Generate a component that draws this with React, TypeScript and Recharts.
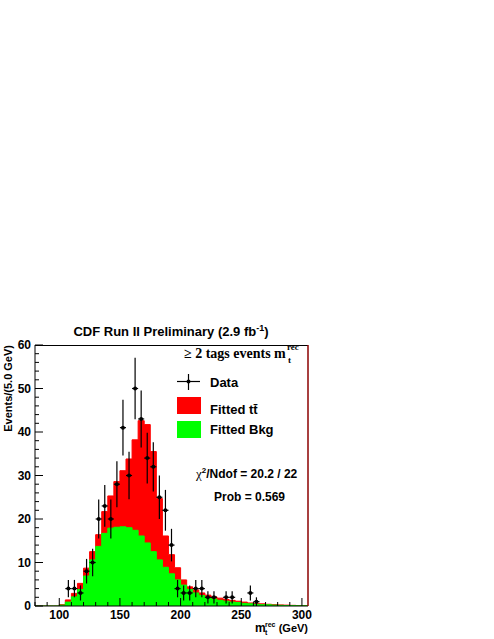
import { Area, ComposedChart, ErrorBar, Scatter, XAxis, YAxis } from "recharts";

// lower edges of the 5 GeV bins
const binLo = [
  80, 85, 90, 95, 100, 105, 110, 115, 120, 125, 130, 135, 140, 145, 150, 155, 160, 165, 170, 175,
  180, 185, 190, 195, 200, 205, 210, 215, 220, 225, 230, 235, 240, 245, 250, 255, 260, 265, 270, 275,
  280, 285, 290, 295, 300,
];
// fitted ttbar + bkg (stack top)
const fitTotal = [
  0, 0, 0, 0, 0.3, 1.4, 2.9, 5.2, 8.7, 12.5, 16.4, 21.7, 25.3, 28.6, 31.1, 33.8, 38.2, 42.6, 41.7, 35.5,
  24.7, 16.1, 11.8, 8.8, 6.0, 4.4, 3.7, 3.0, 2.5, 2.1, 1.8, 1.5, 1.3, 1.1, 0.9, 0.7, 0.6, 0.5, 0.4, 0.3,
  0.25, 0.2, 0.15, 0.1, 0.1,
];
// fitted background
const fitBkg = [
  0, 0, 0, 0, 0.2, 0.9, 2.1, 3.8, 6.9, 10.6, 13.7, 16.7, 17.9, 18.1, 18.2, 18.0, 17.4, 16.1, 14.5, 12.5,
  10.6, 8.9, 7.4, 6.0, 4.8, 3.8, 3.0, 2.4, 1.9, 1.6, 1.3, 1.1, 0.9, 0.8, 0.6, 0.5, 0.4, 0.3, 0.3, 0.2,
  0.15, 0.1, 0.1, 0.05, 0.05,
];
// data: bin centres and counts
const dataMass = [
  107.5, 112.5, 117.5, 122.5, 127.5, 132.5, 137.5, 142.5, 147.5, 152.5, 157.5, 162.5, 167.5, 172.5,
  177.5, 182.5, 187.5, 192.5, 197.5, 202.5, 207.5, 212.5, 217.5, 222.5, 227.5, 237.5, 242.5, 257.5,
  262.5,
];
const dataCount = [
  4, 4, 3, 8, 10, 20, 23, 20, 28, 41, 30, 50, 43, 34, 32, 25, 22, 14, 4, 3, 3, 4, 4, 2, 2, 2, 2, 3, 1,
];
const xTicks = [80, 90, 100, 110, 120, 130, 140, 150, 160, 170, 180, 190, 200, 210, 220, 230, 240, 250, 260, 270, 280, 290, 300];
const yTicks = [0, 2, 4, 6, 8, 10, 12, 14, 16, 18, 20, 22, 24, 26, 28, 30, 32, 34, 36, 38, 40, 42, 44, 46, 48, 50, 52, 54, 56, 58, 60];

const BIN = 5;
const SANS = "'Liberation Sans', Arial, Helvetica, sans-serif";
const SERIF = "'Liberation Serif', 'Times New Roman', serif";

const hist = binLo.map((m, i) => ({ m, tot: fitTotal[i], bkg: fitBkg[i] }));
hist.push({ m: binLo[binLo.length - 1] + BIN, tot: fitTotal[fitTotal.length - 1], bkg: fitBkg[fitBkg.length - 1] });

const points = dataMass.map((m, i) => ({
  m,
  n: dataCount[i],
  ey: Math.sqrt(dataCount[i]),
  ex: BIN / 2,
}));

const TM = 4;
// plot frame (matches chart margins below)
const PL = 35, PR = 308, PT = 345, PB = 606;

function YTick(props: any) {
  const { x, y, payload } = props;
  const v = payload.value;
  const major = v % 10 === 0;
  const ax = x + TM;
  return (
    <g>
      <line x1={ax} x2={ax + (major ? 8 : 4)} y1={y} y2={y} stroke="#000" />
      {major && (
        <text x={ax - 4} y={y + 4} textAnchor="end" fontFamily={SANS} fontWeight="bold" fontSize={12} fill="#000">
          {v}
        </text>
      )}
    </g>
  );
}

function XTick(props: any) {
  const { x, y, payload } = props;
  const v = payload.value;
  const major = v % 50 === 0;
  const ay = y - TM;
  return (
    <g>
      <line x1={x} x2={x} y1={ay} y2={ay - (major ? 8 : 4)} stroke="#000" />
      {major && (
        <text x={x} y={ay + 13} textAnchor="middle" fontFamily={SANS} fontWeight="bold" fontSize={12} fill="#000">
          {v}
        </text>
      )}
    </g>
  );
}

const Dot = (p: any) => <circle cx={p.cx} cy={p.cy} r={2} fill="#000" />;

export default function App() {
  return (
    <div style={{ position: "absolute", left: 0, top: 0, width: 494, height: 639 }}>
      <ComposedChart
        width={494}
        height={639}
        data={hist}
        margin={{ top: PT, right: 494 - PR, bottom: 8, left: 5 }}
      >
        <XAxis
          dataKey="m"
          type="number"
          domain={[80, 305]}
          allowDataOverflow
          ticks={xTicks}
          interval={0}
          tickSize={0}
          tickMargin={TM}
          tick={<XTick />}
          height={25}
          axisLine={{ stroke: "#000" }}
        />
        <YAxis
          type="number"
          domain={[0, 60]}
          allowDataOverflow
          ticks={yTicks}
          interval={0}
          tickSize={0}
          tickMargin={TM}
          tick={<YTick />}
          width={30}
          axisLine={{ stroke: "#000" }}
        />
        <Area
          type="stepAfter"
          dataKey="tot"
          stroke="#ff0000"
          strokeWidth={1}
          fill="#ff0000"
          fillOpacity={1}
          isAnimationActive={false}
          dot={false}
          activeDot={false}
        />
        <Area
          type="stepAfter"
          dataKey="bkg"
          stroke="#00ff00"
          strokeWidth={1}
          fill="#00ff00"
          fillOpacity={1}
          isAnimationActive={false}
          dot={false}
          activeDot={false}
        />
        <Scatter data={points} dataKey="n" shape={Dot} isAnimationActive={false}>
          <ErrorBar dataKey="ey" direction="y" width={0} stroke="#000" strokeWidth={1.2} />
          <ErrorBar dataKey="ex" direction="x" width={0} stroke="#000" strokeWidth={1.2} />
        </Scatter>
      </ComposedChart>

      <svg
        width={494}
        height={639}
        style={{ position: "absolute", left: 0, top: 0, pointerEvents: "none" }}
      >
        {/* frame: top black, right dark red */}
        <line x1={PL} x2={PR} y1={PT + 0.5} y2={PT + 0.5} stroke="#000" />
        <line x1={PR} x2={PR} y1={PT} y2={PB} stroke="#8b0000" strokeWidth={1.5} />

        <text x={171} y={336} textAnchor="middle" fontFamily={SANS} fontWeight="bold" fontSize={13} fill="#000">
          CDF Run II Preliminary (2.9 fb
          <tspan dy={-5} fontSize={9}>-1</tspan>
          <tspan dy={5}>)</tspan>
        </text>

        <text
          transform="translate(12,345) rotate(-90)"
          textAnchor="end"
          fontFamily={SANS}
          fontWeight="bold"
          fontSize={11}
          fill="#000"
        >
          Events/(5.0 GeV)
        </text>

        <text x={255} y={632} fontFamily={SANS} fontWeight="bold" fontSize={12} fill="#000">
          m
        </text>
        <text x={265} y={627} fontFamily={SANS} fontWeight="bold" fontSize={7} fill="#000">
          rec
        </text>
        <text x={265} y={635} fontFamily={SANS} fontWeight="bold" fontSize={7} fill="#000">
          t
        </text>
        <text x={308} y={632} textAnchor="end" fontFamily={SANS} fontWeight="bold" fontSize={11} fill="#000">
          (GeV)
        </text>

        <text x={184} y={358} fontFamily={SERIF} fontWeight="bold" fontSize={14} fill="#000">
          ≥ 2 tags events m
        </text>
        <text x={287} y={350} fontFamily={SERIF} fontWeight="bold" fontSize={9} fill="#000">
          rec
        </text>
        <text x={288} y={363} fontFamily={SERIF} fontWeight="bold" fontSize={9} fill="#000">
          t
        </text>

        <line x1={177} x2={200} y1={381.5} y2={381.5} stroke="#000" strokeWidth={1.2} />
        <line x1={188.5} x2={188.5} y1={374} y2={390} stroke="#000" strokeWidth={1.2} />
        <circle cx={188.5} cy={381.5} r={2} fill="#000" />
        <text x={210} y={387} fontFamily={SANS} fontWeight="bold" fontSize={13} fill="#000">
          Data
        </text>

        <rect x={177} y={397} width={24} height={17} fill="#ff0000" />
        <text x={210} y={414} fontFamily={SANS} fontWeight="bold" fontSize={13} fill="#000">
          Fitted tt{"\u0304"}
        </text>

        <rect x={177} y={421} width={24} height={17} fill="#00ff00" />
        <text x={210} y={434} fontFamily={SANS} fontWeight="bold" fontSize={13} fill="#000">
          Fitted Bkg
        </text>

        <text x={196} y={478} fontFamily={SANS} fontWeight="bold" fontSize={12} fill="#000">
          <tspan fontFamily={SERIF} fontWeight="normal" fontSize={13}>χ</tspan>
          <tspan dy={-5} fontSize={8}>2</tspan>
          <tspan dy={5}>/Ndof = 20.2 / 22</tspan>
        </text>
        <text x={214} y={501} fontFamily={SANS} fontWeight="bold" fontSize={12} fill="#000">
          Prob = 0.569
        </text>
      </svg>
    </div>
  );
}
